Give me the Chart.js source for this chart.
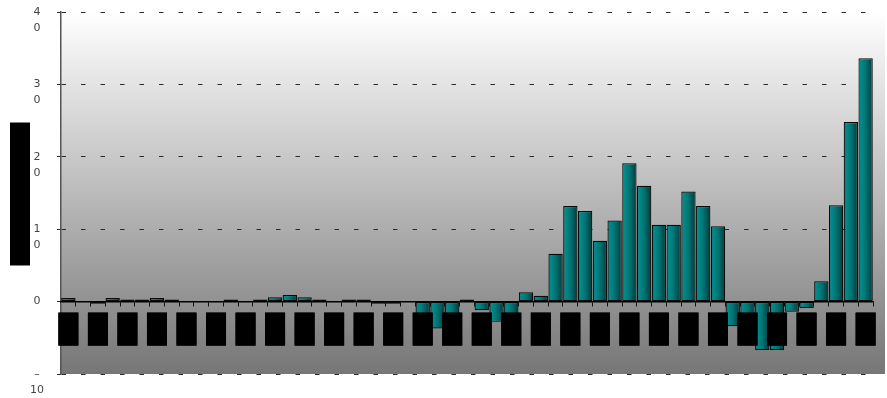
<!DOCTYPE html>
<html>
<head>
<meta charset="utf-8">
<script src="https://cdn.jsdelivr.net/npm/chart.js@4/dist/chart.umd.min.js"></script>
<style>
  html, body { margin: 0; padding: 0; background: #ffffff; }
  #wrap { width: 887px; height: 398px; }
</style>
</head>
<body>
<div id="wrap"><canvas id="c" width="887" height="398"></canvas></div>
<script>
// ---- data ----
const categories = [
  "1950","1951","1952","1953","1954","1955","1956","1957","1958","1959",
  "1960","1961","1962","1963","1964","1965","1966","1967","1968","1969",
  "1970","1971","1972","1973","1974","1975","1976","1977","1978","1979",
  "1980","1981","1982","1983","1984","1985","1986","1987","1988","1989",
  "1990","1991","1992","1993","1994","1995","1996","1997","1998","1999",
  "2000","2001","2002","2003","2004"
];
const values = [
  0.5, null, -0.3, 0.5, 0.3, 0.3, 0.5, 0.3, null, null,
  null, 0.3, null, 0.3, 0.6, 0.9, 0.6, 0.3, null, 0.3,
  0.3, -0.3, -0.3, null, -2.0, -3.7, -2.0, 0.3, -1.2, -2.8,
  -2.0, 1.3, 0.8, 6.6, 13.2, 12.5, 8.4, 11.2, 19.1, 16.0,
  10.6, 10.6, 15.2, 13.2, 10.4, -3.4, -3.0, -6.7, -6.7, -1.4,
  -0.9, 2.8, 13.3, 24.8, 33.6
];
const yTicks = [-10, 0, 10, 20, 30, 40];
const yTitle = "Percent change";

// ---- plugins ----
const backgroundPlugin = {
  id: 'plotBackground',
  beforeDraw(chart) {
    const { ctx, chartArea } = chart;
    ctx.save();
    ctx.fillStyle = '#ffffff';
    ctx.fillRect(0, 0, chart.width, chart.height);
    const g = ctx.createLinearGradient(0, chartArea.top, 0, chartArea.bottom);
    g.addColorStop(0, '#ffffff');
    g.addColorStop(1, '#767676');
    ctx.fillStyle = g;
    ctx.fillRect(chartArea.left, chartArea.top, chart.width - 2 - chartArea.left, chartArea.bottom - chartArea.top);
    ctx.restore();
  }
};

const titleBoxPlugin = {
  id: 'titleBox',
  afterDraw(chart) {
    const { ctx, chartArea } = chart;
    const w = 20, h = 143;
    const cx = chartArea.left - 41;
    const cy = (chartArea.top + chartArea.bottom) / 2 + 1;
    ctx.save();
    ctx.fillStyle = '#000000';
    ctx.fillRect(cx - w / 2, cy - h / 2, w, h);
    ctx.translate(cx, cy);
    ctx.rotate(-Math.PI / 2);
    ctx.font = 'bold 13px "DejaVu Sans"';
    ctx.textAlign = 'center';
    ctx.textBaseline = 'middle';
    ctx.fillText(yTitle, 0, 0);
    ctx.restore();
  }
};

function barFill(context) {
  const el = context.element;
  if (!el || !isFinite(el.x) || !isFinite(el.width) || !el.width) return '#007373';
  const c = context.chart.ctx;
  const g = c.createLinearGradient(el.x - el.width / 2, 0, el.x + el.width / 2, 0);
  g.addColorStop(0, '#006262');
  g.addColorStop(0.15, '#008c8c');
  g.addColorStop(0.5, '#007474');
  g.addColorStop(1, '#003a3a');
  return g;
}

const chart = new Chart(document.getElementById('c'), {
  type: 'bar',
  data: {
    labels: categories,
    datasets: [{
      data: values,
      backgroundColor: barFill,
      borderColor: '#0a0a0a',
      borderWidth: 1.2,
      borderSkipped: false,
      barPercentage: 0.97,
      categoryPercentage: 1.0
    }]
  },
  options: {
    responsive: false,
    animation: false,
    devicePixelRatio: 1,
    layout: { padding: { top: 12, right: 14, bottom: 24, left: 0 } },
    plugins: {
      legend: { display: false },
      tooltip: { enabled: false },
      title: { display: false }
    },
    scales: {
      x: {
        type: 'category',
        position: { y: 0 },
        offset: true,
        grid: {
          display: true,
          drawOnChartArea: false,
          drawTicks: true,
          tickLength: 4,
          tickColor: '#111111',
          tickWidth: 1,
          offset: true
        },
        border: { display: true, color: '#000000', width: 1.5, z: 1 },
        ticks: {
          z: 1,
          autoSkip: false,
          maxRotation: 0,
          minRotation: 0,
          padding: 14,
          color: '#000000',
          font: { family: '"DejaVu Sans"', size: 11, lineHeight: '14px' },
          showLabelBackdrop: (ctx) => ctx.index % 2 === 0,
          backdropColor: '#000000',
          backdropPadding: { top: 0, bottom: 5, left: 3, right: 3 },
          callback: function (value, index) {
            if (index % 2 !== 0) return '';
            const s = this.getLabelForValue(value);
            return [s.slice(0, 2), s.slice(2)];
          }
        },
        afterFit(s) { s.paddingLeft = 0; s.paddingRight = 0; }
      },
      y: {
        min: yTicks[0],
        max: yTicks[yTicks.length - 1],
        afterBuildTicks(s) { s.ticks = yTicks.map(v => ({ value: v })); },
        grid: {
          color: '#2a2a2a',
          lineWidth: 1,
          drawTicks: true,
          tickLength: 4,
          tickColor: '#2a2a2a'
        },
        border: { display: true, color: '#555555', width: 1.5, dash: [4.5, 15] },
        ticks: {
          color: '#444444',
          crossAlign: 'center',
          padding: 13,
          labelOffset: 8,
          font: { family: '"DejaVu Sans"', size: 11, lineHeight: '16px' },
          callback: function (v) {
            if (v === 0) return ['0', ''];
            if (v < 0) return ['\u2013', String(-v)];
            const s = String(v);
            return [s.slice(0, 1), s.slice(1)];
          }
        },
        afterFit(s) { s.width = 61; s.paddingTop = 0; s.paddingBottom = 0; }
      }
    }
  },
  plugins: [backgroundPlugin, titleBoxPlugin]
});
chart.update('none');
</script>
</body>
</html>
